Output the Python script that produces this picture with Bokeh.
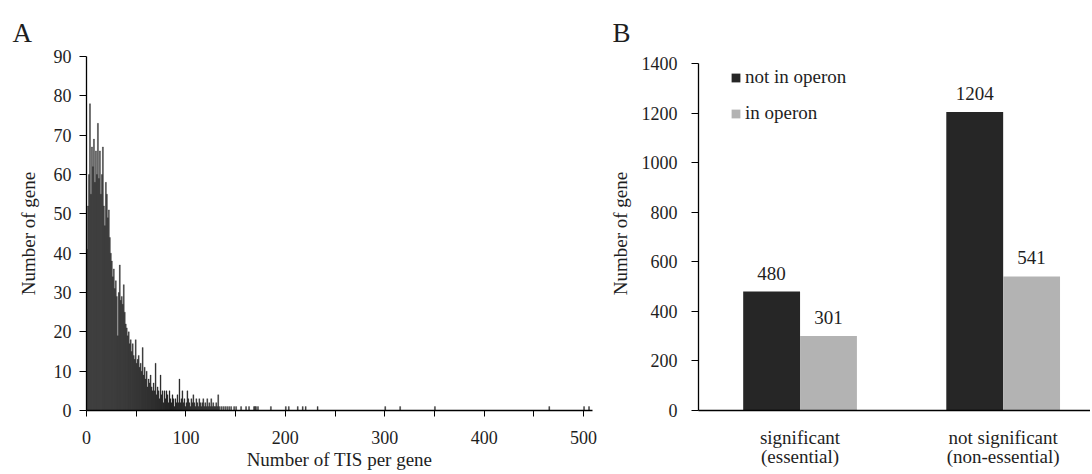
from bokeh.plotting import figure
from bokeh.layouts import row
from bokeh.models import FixedTicker, Legend, LegendItem, ColumnDataSource, LinearAxis
from bokeh.core.properties import value
from bokeh.embed import file_html
from bokeh.resources import INLINE

# ---------------- Panel A data: histogram of TIS per gene ----------------
main_counts = [41, 52, 60, 78, 55, 67, 62, 69, 58, 66,
               60, 73, 59, 66, 55, 60, 67, 52, 47, 58,
               55, 49, 51, 44, 40, 38, 34, 36, 31, 33,
               29, 19, 30, 37, 28, 29, 27, 32, 25, 22,
               21, 19, 20, 17, 18, 15, 17, 14, 13, 18,
               12, 13, 14, 11, 12, 10, 16, 9, 11, 8,
               10, 6, 8, 7, 9, 6, 5, 7, 5, 12,
               4, 6, 5, 3, 9, 4, 5, 2, 5, 3,
               5, 4, 2, 5, 3, 2, 4, 3, 1, 3,
               2, 4, 2, 8, 2, 3, 5, 2, 3, 1,
               2, 5, 3, 2, 1, 3, 2, 4, 2, 1,
               3, 2, 1, 3, 2, 1, 2, 3, 1, 2,
               1, 3, 1, 2, 1, 3, 1, 2, 1, 1,
               2, 1, 4, 1, 0, 1]
main_bins = list(range(len(main_counts)))
tail_bins = [137, 139, 141, 143, 145, 148, 150, 155, 160, 163, 168, 169, 170, 172,
             185, 200, 203, 212, 217, 220, 232, 300, 315, 350, 465, 500, 505]
tail_counts = [1] * len(tail_bins)

tis_bins = main_bins + tail_bins
gene_counts = main_counts + tail_counts

# ---------------- Panel B data ----------------
group_line1 = ["significant", "not significant"]
group_line2 = ["(essential)", "(non-essential)"]
series = ["not in operon", "in operon"]
not_in_operon = [480, 1204]
in_operon = [301, 541]

FONT = "Liberation Serif"
DARK = "#262626"
GREY = "#b3b3b3"
TXT = "#1e1e1e"
H = 474
TOP = 56
BOTTOM = 64


def style_axis(ax):
    ax.axis_line_color = "black"
    ax.axis_line_width = 1.3
    ax.major_tick_line_color = "black"
    ax.minor_tick_line_color = "black"
    ax.major_tick_in = 0
    ax.minor_tick_in = 0
    ax.major_label_text_font = FONT
    ax.major_label_text_font_size = "18px"
    ax.major_label_text_color = TXT
    ax.axis_label_text_font = FONT
    ax.axis_label_text_font_size = "19px"
    ax.axis_label_text_font_style = "normal"
    ax.axis_label_text_color = TXT


def style_title(p, txt, off):
    p.title.text = txt
    p.title.text_font = FONT
    p.title.text_font_size = "27px"
    p.title.text_font_style = "normal"
    p.title.text_color = TXT
    p.title.align = "left"
    p.title.offset = off
    p.title.standoff = 18


# ---------------- Panel A ----------------
pa = figure(width=598, height=H, x_range=(0, 509), y_range=(0, 90),
            output_backend="svg", toolbar_location=None,
            min_border_left=86, min_border_right=6, min_border_top=TOP, min_border_bottom=BOTTOM)
pa.outline_line_color = None
pa.xgrid.visible = False
pa.ygrid.visible = False
style_title(pa, "A", -74)

src_a = ColumnDataSource(dict(left=tis_bins, right=[b + 1 for b in tis_bins], top=gene_counts))
pa.quad(left="left", right="right", bottom=0, top="top", source=src_a,
        fill_color=DARK, line_color=DARK, line_width=0.3)

style_axis(pa.xaxis[0])
style_axis(pa.yaxis[0])
pa.xaxis.ticker = FixedTicker(ticks=[0, 100, 200, 300, 400, 500],
                              minor_ticks=[50, 150, 250, 350, 450])
pa.xaxis.major_tick_out = 6
pa.xaxis.minor_tick_out = 6
pa.xaxis.major_label_standoff = 14
pa.xaxis.axis_label = "Number of TIS per gene"
pa.xaxis.axis_label_standoff = 2
pa.yaxis.ticker = FixedTicker(ticks=list(range(0, 91, 10)))
pa.yaxis.minor_tick_out = 0
pa.yaxis.major_tick_out = 7
pa.yaxis.major_label_standoff = 8
pa.yaxis.axis_label = "Number of gene"
pa.yaxis.axis_label_standoff = 12

# ---------------- Panel B ----------------
pb = figure(width=492, height=H, x_range=(0, 3.86), y_range=(0, 1428),
            output_backend="svg", toolbar_location=None,
            min_border_left=100, min_border_right=0, min_border_top=TOP, min_border_bottom=BOTTOM)
pb.outline_line_color = None
pb.xgrid.visible = False
pb.ygrid.visible = False
style_title(pb, "B", -86)

centers = [1, 3]
bw = 0.56
src_b = ColumnDataSource(dict(
    x1=[c - bw / 2 for c in centers], x2=[c + bw / 2 for c in centers],
    v1=not_in_operon, v2=in_operon,
    t1=[str(v) for v in not_in_operon], t2=[str(v) for v in in_operon]))
r1 = pb.vbar(x="x1", top="v1", width=bw, bottom=0, source=src_b, fill_color=DARK, line_color=None)
r2 = pb.vbar(x="x2", top="v2", width=bw, bottom=0, source=src_b, fill_color=GREY, line_color=None)
pb.text(x="x1", y="v1", text="t1", source=src_b, text_align="center", text_baseline="bottom",
        y_offset=-12, text_font=value(FONT), text_font_size="19px", text_color=TXT)
pb.text(x="x2", y="v2", text="t2", source=src_b, text_align="center", text_baseline="bottom",
        y_offset=-12, text_font=value(FONT), text_font_size="19px", text_color=TXT)

style_axis(pb.xaxis[0])
style_axis(pb.yaxis[0])
pb.xaxis.ticker = FixedTicker(ticks=centers)
pb.xaxis.major_label_overrides = {centers[i]: group_line1[i] for i in range(len(centers))}
pb.xaxis.major_label_text_font_size = "19px"
pb.xaxis.major_tick_out = 0
pb.xaxis.minor_tick_out = 0
pb.xaxis.major_label_standoff = 16

ax2 = LinearAxis(ticker=FixedTicker(ticks=centers),
                 major_label_overrides={centers[i]: group_line2[i] for i in range(len(centers))})
style_axis(ax2)
ax2.axis_line_color = None
ax2.major_tick_out = 0
ax2.minor_tick_out = 0
ax2.major_label_standoff = -5
ax2.major_label_text_font_size = "19px"
pb.add_layout(ax2, "below")

pb.yaxis.ticker = FixedTicker(ticks=list(range(0, 1401, 200)))
pb.yaxis.bounds = (0, 1400)
pb.yaxis.minor_tick_out = 0
pb.yaxis.major_tick_out = 7
pb.yaxis.major_label_standoff = 14
pb.yaxis.axis_label = "Number of gene"
pb.yaxis.axis_label_standoff = 8

legend = Legend(items=[LegendItem(label=series[0], renderers=[r1]),
                       LegendItem(label=series[1], renderers=[r2])],
                location=(32, 286), orientation="vertical")
legend.glyph_width = 11
legend.glyph_height = 11
legend.label_height = 20
legend.label_standoff = 4
legend.spacing = 14
legend.padding = 0
legend.margin = 0
legend.border_line_color = None
legend.background_fill_alpha = 0
legend.label_text_font = FONT
legend.label_text_font_size = "19px"
legend.label_text_color = TXT
pb.add_layout(legend, "center")

layout = row(pa, pb)
open("out.html", "w").write(file_html(layout, INLINE))
